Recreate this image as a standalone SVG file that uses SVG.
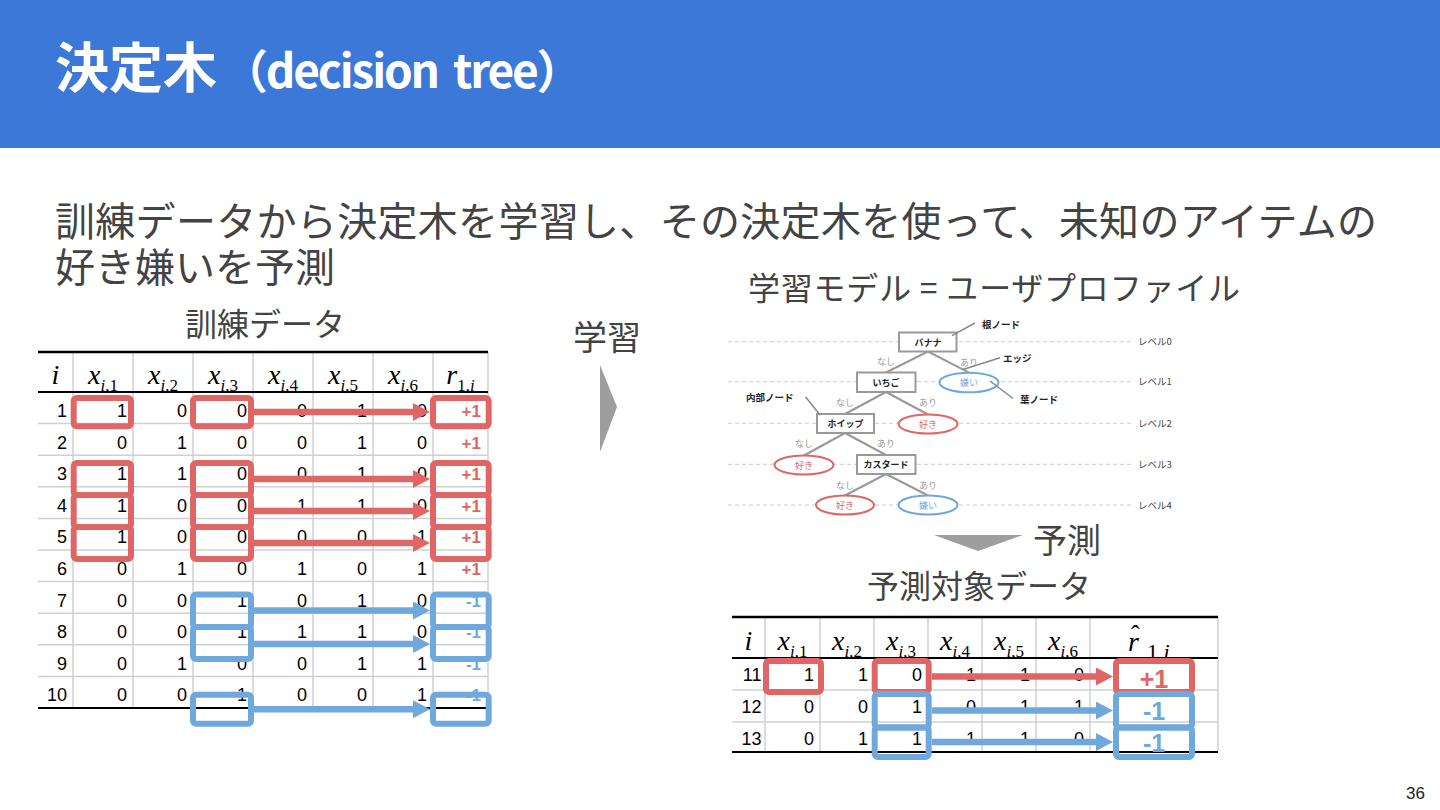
<svg xmlns="http://www.w3.org/2000/svg" width="1440" height="810" viewBox="0 0 1440 810">
<style>
.cjk{font-family:"Noto Sans CJK JP","Noto Sans",sans-serif}
.body{font-family:"Noto Sans CJK JP","Noto Sans",sans-serif;fill:#434343}
.num{font-family:"Liberation Sans",Arial,sans-serif;font-size:18px;fill:#000;text-anchor:end}
.pos{font-family:"Liberation Sans",Arial,sans-serif;font-size:17px;font-weight:700;fill:#e06666;text-anchor:end}
.neg{font-family:"Liberation Sans",Arial,sans-serif;font-size:17px;font-weight:700;fill:#6fa8dc;text-anchor:end}
.math{font-family:"Liberation Serif","Times New Roman",serif;font-style:italic;font-size:28px;fill:#000;text-anchor:middle}
.sub{font-size:17px}
.up{font-style:normal}
.grid{stroke:#d0d0d0;stroke-width:1.5}
.rule{stroke:#000;stroke-width:2}
.rbox{fill:none;stroke:#e06666;stroke-width:6}
.bbox{fill:none;stroke:#6fa8dc;stroke-width:6}
.rarr{stroke:#e06666;stroke-width:6.5;marker-end:url(#ah-r)}
.barr{stroke:#6fa8dc;stroke-width:6.5;marker-end:url(#ah-b)}
.dash{stroke:#cccccc;stroke-width:1;stroke-dasharray:4 3}
.node{fill:#fff;stroke:#999;stroke-width:2}
.lr{fill:#fff;stroke:#e06666;stroke-width:2}
.lb{fill:#fff;stroke:#6fa8dc;stroke-width:2}
.edge{stroke:#999;stroke-width:2}
.lead{stroke:#888;stroke-width:1.5}
.tn{font-family:"Noto Sans CJK JP",sans-serif;font-size:9px;font-weight:700;fill:#222;text-anchor:middle}
.tr{font-family:"Noto Sans CJK JP",sans-serif;font-size:9px;fill:#e06666;text-anchor:middle}
.tb{font-family:"Noto Sans CJK JP",sans-serif;font-size:9px;fill:#6fa8dc;text-anchor:middle}
.te{font-family:"Noto Sans CJK JP",sans-serif;font-size:9px;fill:#999;text-anchor:middle}
.tl{font-family:"Noto Sans CJK JP",sans-serif;font-size:9.5px;fill:#444}
.ta{font-family:"Noto Sans CJK JP",sans-serif;font-size:9.5px;font-weight:700;fill:#222}
</style>
<defs>
<marker id="ah-r" markerUnits="userSpaceOnUse" markerWidth="17" markerHeight="18" refX="2" refY="9" orient="auto"><path d="M0,0 L17,9 L0,18 Z" fill="#e06666"/></marker>
<marker id="ah-b" markerUnits="userSpaceOnUse" markerWidth="17" markerHeight="18" refX="2" refY="9" orient="auto"><path d="M0,0 L17,9 L0,18 Z" fill="#6fa8dc"/></marker>
</defs>
<rect width="1440" height="810" fill="#fff"/>
<g id="header">
<rect x="0" y="0" width="1440" height="148" fill="#3c78d8"/>
<text x="55" y="88" class="cjk" font-weight="700" fill="#fff"><tspan font-size="54">決定木</tspan><tspan font-size="46" dx="5" letter-spacing="-2.2" word-spacing="7">（decision tree）</tspan></text>
</g>
<g id="intro">
<text x="55" y="236" class="body" font-size="40" textLength="1322">訓練データから決定木を学習し、その決定木を使って、未知のアイテムの</text>
<text x="55" y="282" class="body" font-size="40">好き嫌いを予測</text>
</g>
<g id="labels">
<text x="185" y="336" class="body" font-size="32">訓練データ</text>
<text x="573" y="350" class="body" font-size="34">学習</text>
<text x="748" y="300" class="body" font-size="32" textLength="492">学習モデル = ユーザプロファイル</text>
<text x="1033" y="553" class="body" font-size="34">予測</text>
<text x="867" y="598" class="body" font-size="32">予測対象データ</text>
<text x="1425" y="799" font-family="Liberation Sans,Arial,sans-serif" font-size="17" fill="#222" text-anchor="end">36</text>
</g>
<g id="flow-arrows">
<polygon points="600,365 617,407 600,452" fill="#9e9e9e"/>
<polygon points="934,535 1023,535 978,551" fill="#9e9e9e"/>
</g>
<g id="train-table">
<g class="grid">
<line x1="38" y1="423.6" x2="488" y2="423.6"/><line x1="38" y1="455.2" x2="488" y2="455.2"/><line x1="38" y1="486.8" x2="488" y2="486.8"/><line x1="38" y1="518.4" x2="488" y2="518.4"/><line x1="38" y1="550" x2="488" y2="550"/><line x1="38" y1="581.6" x2="488" y2="581.6"/><line x1="38" y1="613.2" x2="488" y2="613.2"/><line x1="38" y1="644.8" x2="488" y2="644.8"/><line x1="38" y1="676.4" x2="488" y2="676.4"/>
<line x1="73" y1="352" x2="73" y2="708"/><line x1="133" y1="352" x2="133" y2="708"/><line x1="193" y1="352" x2="193" y2="708"/><line x1="253" y1="352" x2="253" y2="708"/><line x1="313" y1="352" x2="313" y2="708"/><line x1="373" y1="352" x2="373" y2="708"/><line x1="433" y1="352" x2="433" y2="708"/><line x1="488" y1="352" x2="488" y2="708"/>
</g>
<g class="rule">
<line x1="38" y1="352" x2="488" y2="352" stroke-width="2.5"/><line x1="38" y1="392" x2="488" y2="392"/><line x1="38" y1="708" x2="488" y2="708"/>
</g>
<text class="math" x="55.5" y="384">i</text>
<text class="math" x="103" y="384">x<tspan class="sub" dy="7">i<tspan class="up">,1</tspan></tspan></text>
<text class="math" x="163" y="384">x<tspan class="sub" dy="7">i<tspan class="up">,2</tspan></tspan></text>
<text class="math" x="223" y="384">x<tspan class="sub" dy="7">i<tspan class="up">,3</tspan></tspan></text>
<text class="math" x="283" y="384">x<tspan class="sub" dy="7">i<tspan class="up">,4</tspan></tspan></text>
<text class="math" x="343" y="384">x<tspan class="sub" dy="7">i<tspan class="up">,5</tspan></tspan></text>
<text class="math" x="403" y="384">x<tspan class="sub" dy="7">i<tspan class="up">,6</tspan></tspan></text>
<text class="math" x="460.5" y="384">r<tspan class="sub up" dy="7">1,</tspan><tspan class="sub">i</tspan></text>
<text class="num" y="417"><tspan x="67">1</tspan><tspan x="127">1</tspan><tspan x="187">0</tspan><tspan x="247">0</tspan><tspan x="307">0</tspan><tspan x="367">1</tspan><tspan x="427">0</tspan></text>
<text class="num" y="448.6"><tspan x="67">2</tspan><tspan x="127">0</tspan><tspan x="187">1</tspan><tspan x="247">0</tspan><tspan x="307">0</tspan><tspan x="367">1</tspan><tspan x="427">0</tspan></text>
<text class="num" y="480.2"><tspan x="67">3</tspan><tspan x="127">1</tspan><tspan x="187">1</tspan><tspan x="247">0</tspan><tspan x="307">0</tspan><tspan x="367">1</tspan><tspan x="427">0</tspan></text>
<text class="num" y="511.8"><tspan x="67">4</tspan><tspan x="127">1</tspan><tspan x="187">0</tspan><tspan x="247">0</tspan><tspan x="307">1</tspan><tspan x="367">1</tspan><tspan x="427">0</tspan></text>
<text class="num" y="543.4"><tspan x="67">5</tspan><tspan x="127">1</tspan><tspan x="187">0</tspan><tspan x="247">0</tspan><tspan x="307">0</tspan><tspan x="367">0</tspan><tspan x="427">1</tspan></text>
<text class="num" y="575"><tspan x="67">6</tspan><tspan x="127">0</tspan><tspan x="187">1</tspan><tspan x="247">0</tspan><tspan x="307">1</tspan><tspan x="367">0</tspan><tspan x="427">1</tspan></text>
<text class="num" y="606.6"><tspan x="67">7</tspan><tspan x="127">0</tspan><tspan x="187">0</tspan><tspan x="247">1</tspan><tspan x="307">0</tspan><tspan x="367">1</tspan><tspan x="427">0</tspan></text>
<text class="num" y="638.2"><tspan x="67">8</tspan><tspan x="127">0</tspan><tspan x="187">0</tspan><tspan x="247">1</tspan><tspan x="307">1</tspan><tspan x="367">1</tspan><tspan x="427">0</tspan></text>
<text class="num" y="669.8"><tspan x="67">9</tspan><tspan x="127">0</tspan><tspan x="187">1</tspan><tspan x="247">0</tspan><tspan x="307">0</tspan><tspan x="367">1</tspan><tspan x="427">1</tspan></text>
<text class="num" y="701.4"><tspan x="67">10</tspan><tspan x="127">0</tspan><tspan x="187">0</tspan><tspan x="247">1</tspan><tspan x="307">0</tspan><tspan x="367">0</tspan><tspan x="427">1</tspan></text>
<text class="pos" x="481" y="417">+1</text><text class="pos" x="481" y="448.6">+1</text><text class="pos" x="481" y="480.2">+1</text><text class="pos" x="481" y="511.8">+1</text><text class="pos" x="481" y="543.4">+1</text><text class="pos" x="481" y="575">+1</text>
<text class="neg" x="481" y="606.6">-1</text><text class="neg" x="481" y="638.2">-1</text><text class="neg" x="481" y="669.8">-1</text><text class="neg" x="481" y="701.4">-1</text>
</g>
<g id="train-highlights">
<rect class="rbox" x="73.7" y="398" width="57.3" height="28.3" rx="3"/>
<rect class="rbox" x="193" y="398" width="58" height="28.3" rx="3"/>
<rect class="rbox" x="433" y="398" width="55.7" height="28.3" rx="3"/>
<rect class="rbox" x="73.7" y="463" width="57.3" height="32" rx="3"/>
<rect class="rbox" x="73.7" y="495" width="57.3" height="32" rx="3"/>
<rect class="rbox" x="73.7" y="527" width="57.3" height="32" rx="3"/>
<rect class="rbox" x="193" y="463" width="58" height="32" rx="3"/>
<rect class="rbox" x="193" y="495" width="58" height="32" rx="3"/>
<rect class="rbox" x="193" y="527" width="58" height="32" rx="3"/>
<rect class="rbox" x="433" y="463" width="55.7" height="32" rx="3"/>
<rect class="rbox" x="433" y="495" width="55.7" height="32" rx="3"/>
<rect class="rbox" x="433" y="527" width="55.7" height="32" rx="3"/>
<rect class="bbox" x="193" y="594.5" width="58" height="32.5" rx="3"/>
<rect class="bbox" x="193" y="627" width="58" height="32" rx="3"/>
<rect class="bbox" x="193" y="694.7" width="58" height="29" rx="3"/>
<rect class="bbox" x="433" y="594.5" width="55.7" height="32.5" rx="3"/>
<rect class="bbox" x="433" y="627" width="55.7" height="32" rx="3"/>
<rect class="bbox" x="433" y="694.7" width="55.7" height="29" rx="3"/>
</g>
<g id="train-connectors">
<line class="rarr" x1="254" y1="412" x2="415" y2="412"/>
<line class="rarr" x1="254" y1="479" x2="415" y2="479"/>
<line class="rarr" x1="254" y1="511" x2="415" y2="511"/>
<line class="rarr" x1="254" y1="543" x2="415" y2="543"/>
<line class="barr" x1="254" y1="610.5" x2="415" y2="610.5"/>
<line class="barr" x1="254" y1="644" x2="415" y2="644"/>
<line class="barr" x1="254" y1="709.3" x2="415" y2="709.3"/>
</g>
<g id="tree">
<g id="levels">
<line class="dash" x1="728" y1="341.7" x2="1133" y2="341.7"/>
<line class="dash" x1="728" y1="381.7" x2="1133" y2="381.7"/>
<line class="dash" x1="728" y1="423.3" x2="1133" y2="423.3"/>
<line class="dash" x1="728" y1="464.3" x2="1133" y2="464.3"/>
<line class="dash" x1="728" y1="505" x2="1133" y2="505"/>
<text class="tl" x="1138" y="345">レベル0</text>
<text class="tl" x="1138" y="385">レベル1</text>
<text class="tl" x="1138" y="427">レベル2</text>
<text class="tl" x="1138" y="468">レベル3</text>
<text class="tl" x="1138" y="508.5">レベル4</text>
</g>
<g id="tree-edges">
<line class="edge" x1="928" y1="351.5" x2="886" y2="372.5"/>
<line class="edge" x1="928" y1="351.5" x2="969" y2="372.7"/>
<line class="edge" x1="886" y1="392" x2="845" y2="414"/>
<line class="edge" x1="886" y1="392" x2="928" y2="414.5"/>
<line class="edge" x1="845" y1="433" x2="804" y2="455.5"/>
<line class="edge" x1="845" y1="433" x2="886" y2="455"/>
<line class="edge" x1="886" y1="474" x2="845" y2="495.5"/>
<line class="edge" x1="886" y1="474" x2="928" y2="495.5"/>
<text class="te" x="886" y="365">なし</text><text class="te" x="969" y="366">あり</text>
<text class="te" x="845" y="406">なし</text><text class="te" x="928" y="406">あり</text>
<text class="te" x="804" y="447">なし</text><text class="te" x="886" y="447">あり</text>
<text class="te" x="845" y="489">なし</text><text class="te" x="928" y="489">あり</text>
</g>
<g id="n-banana"><rect class="node" x="899" y="332.5" width="57.5" height="19"/><text class="tn" x="928" y="345.5">バナナ</text></g>
<g id="n-ichigo"><rect class="node" x="857" y="372.5" width="58.5" height="19.5"/><text class="tn" x="886" y="385.7">いちご</text></g>
<g id="n-whip"><rect class="node" x="817" y="414" width="57" height="19"/><text class="tn" x="845.5" y="427">ホイップ</text></g>
<g id="n-custard"><rect class="node" x="857" y="455" width="58.5" height="19"/><text class="tn" x="886" y="468">カスタード</text></g>
<g id="leaf-1"><ellipse class="lb" cx="969" cy="382.5" rx="29.5" ry="9.8"/><text class="tb" x="969" y="386">嫌い</text></g>
<g id="leaf-2"><ellipse class="lr" cx="928" cy="424" rx="29.5" ry="9.5"/><text class="tr" x="928" y="427.5">好き</text></g>
<g id="leaf-3"><ellipse class="lr" cx="804" cy="465" rx="29.5" ry="9.5"/><text class="tr" x="804" y="468.5">好き</text></g>
<g id="leaf-4"><ellipse class="lr" cx="845" cy="505" rx="29" ry="9.5"/><text class="tr" x="845" y="508.5">好き</text></g>
<g id="leaf-5"><ellipse class="lb" cx="928" cy="505" rx="29.5" ry="9.5"/><text class="tb" x="928" y="508.5">嫌い</text></g>
<g id="annotations">
<line class="lead" x1="975" y1="323" x2="952" y2="335.7"/>
<text class="ta" x="982" y="327.5">根ノード</text>
<line class="lead" x1="1000" y1="357.7" x2="963" y2="369.5"/>
<text class="ta" x="1003" y="362">エッジ</text>
<line class="lead" x1="1013" y1="398.5" x2="990" y2="381"/>
<text class="ta" x="1020" y="403">葉ノード</text>
<line class="lead" x1="805.7" y1="397" x2="820" y2="415"/>
<text class="ta" x="746" y="401">内部ノード</text>
</g>
</g>
<g id="predict-table">
<g class="grid">
<line x1="732" y1="690" x2="1218" y2="690"/><line x1="732" y1="722" x2="1218" y2="722"/>
<line x1="765" y1="617" x2="765" y2="752"/><line x1="820" y1="617" x2="820" y2="752"/><line x1="874" y1="617" x2="874" y2="752"/><line x1="928" y1="617" x2="928" y2="752"/><line x1="982" y1="617" x2="982" y2="752"/><line x1="1036" y1="617" x2="1036" y2="752"/><line x1="1090" y1="617" x2="1090" y2="752"/><line x1="1218" y1="617" x2="1218" y2="752"/>
</g>
<g class="rule">
<line x1="732" y1="617" x2="1218" y2="617" stroke-width="2.5"/><line x1="732" y1="658" x2="1218" y2="658"/><line x1="732" y1="752" x2="1218" y2="752"/>
</g>
<text class="math" x="748.5" y="650">i</text>
<text class="math" x="792.5" y="650">x<tspan class="sub" dy="7">i<tspan class="up">,1</tspan></tspan></text>
<text class="math" x="847" y="650">x<tspan class="sub" dy="7">i<tspan class="up">,2</tspan></tspan></text>
<text class="math" x="901" y="650">x<tspan class="sub" dy="7">i<tspan class="up">,3</tspan></tspan></text>
<text class="math" x="955" y="650">x<tspan class="sub" dy="7">i<tspan class="up">,4</tspan></tspan></text>
<text class="math" x="1009" y="650">x<tspan class="sub" dy="7">i<tspan class="up">,5</tspan></tspan></text>
<text class="math" x="1063" y="650">x<tspan class="sub" dy="7">i<tspan class="up">,6</tspan></tspan></text>
<text class="math" style="text-anchor:start" x="1128" y="651" font-size="32">r<tspan class="up" x="1131" y="643" font-size="26">ˆ</tspan><tspan class="up" x="1147" y="659" font-size="22">1,</tspan><tspan font-size="22">i</tspan></text>
<text class="num" y="681"><tspan x="761.5">11</tspan><tspan x="814">1</tspan><tspan x="868">1</tspan><tspan x="922">0</tspan><tspan x="976">1</tspan><tspan x="1030">1</tspan><tspan x="1084">0</tspan></text>
<text class="num" y="713"><tspan x="761.5">12</tspan><tspan x="814">0</tspan><tspan x="868">0</tspan><tspan x="922">1</tspan><tspan x="976">0</tspan><tspan x="1030">1</tspan><tspan x="1084">1</tspan></text>
<text class="num" y="745"><tspan x="761.5">13</tspan><tspan x="814">0</tspan><tspan x="868">1</tspan><tspan x="922">1</tspan><tspan x="976">1</tspan><tspan x="1030">1</tspan><tspan x="1084">0</tspan></text>
<text x="1154" y="688" font-family="Liberation Sans,Arial,sans-serif" font-size="25" font-weight="700" fill="#e06666" text-anchor="middle">+1</text>
<text x="1154" y="720" font-family="Liberation Sans,Arial,sans-serif" font-size="25" font-weight="700" fill="#6fa8dc" text-anchor="middle">-1</text>
<text x="1154" y="752" font-family="Liberation Sans,Arial,sans-serif" font-size="25" font-weight="700" fill="#6fa8dc" text-anchor="middle">-1</text>
</g>
<g id="predict-highlights">
<rect class="rbox" x="766" y="661" width="55" height="31" rx="3"/>
<rect class="rbox" x="874.7" y="661" width="54" height="31" rx="3"/>
<rect class="rbox" x="1116" y="661" width="76" height="31" rx="3"/>
<rect class="bbox" x="874.7" y="694" width="54" height="33.5" rx="3"/>
<rect class="bbox" x="874.7" y="727.5" width="54" height="29.5" rx="3"/>
<rect class="bbox" x="1116" y="694" width="76" height="33.5" rx="3"/>
<rect class="bbox" x="1116" y="727.5" width="76" height="29.5" rx="3"/>
</g>
<g id="predict-connectors">
<line class="rarr" x1="932" y1="676.5" x2="1098" y2="676.5"/>
<line class="barr" x1="932" y1="710.5" x2="1098" y2="710.5"/>
<line class="barr" x1="932" y1="742" x2="1098" y2="742"/>
</g>
</svg>
